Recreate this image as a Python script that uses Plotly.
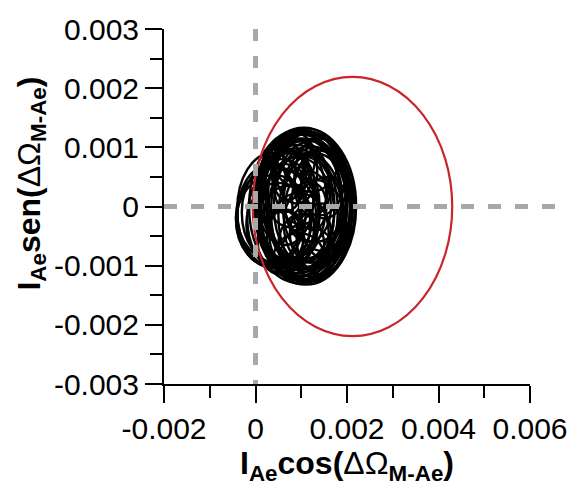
import plotly.graph_objects as go

# Axis ticks
x_tickvals = [-0.002, 0, 0.002, 0.004, 0.006]
x_ticktext = ["-0.002", "0", "0.002", "0.004", "0.006"]
y_tickvals = [-0.003, -0.002, -0.001, 0, 0.001, 0.002, 0.003]
y_ticktext = ["-0.003", "-0.002", "-0.001", "0", "0.001", "0.002", "0.003"]

# Red reference ellipse (center and semi-axes, data units)
ref_cx = 0.00212
ref_cy = 0.0
ref_rx = 0.00218
ref_ry = 0.00219

# Black trajectory loops (center x, center y, semi-axis x, semi-axis y)
loop_cx = [0.00110, 0.00105, 0.00112, 0.00100, 0.00108, 0.00095, 0.00115, 0.00090,
           0.00102, 0.00110, 0.00085, 0.00120, 0.00045, 0.00050, 0.00040, 0.00055,
           0.00060, 0.00100, 0.00095, 0.00130, 0.00130, 0.00075, 0.00070, 0.00115,
           0.00090, 0.00100, 0.00140, 0.00145, 0.00060, 0.00055, 0.00120, 0.00115,
           0.00080, 0.00122, 0.00035, 0.00098,
           0.00105, 0.00100, 0.00112, 0.00092, 0.00070, 0.00065, 0.00050, 0.00135,
           0.00145, 0.00130, 0.00085, 0.00095, 0.00125, 0.00120, 0.00125, 0.00065,
           0.00070, 0.00155, 0.00150, 0.00030]
loop_cy = [0.00000, 0.00005, -0.00003, 0.00002, -0.00005, 0.00008, 0.00004, -0.00008,
           0.00010, -0.00010, 0.00000, 0.00000, -0.00020, -0.00015, -0.00025, -0.00010,
           -0.00020, 0.00040, -0.00045, 0.00020, -0.00030, 0.00030, -0.00035, 0.00000,
           0.00060, -0.00065, 0.00050, -0.00055, 0.00050, -0.00060, 0.00075, -0.00080,
           0.00010, -0.00008, -0.00005, 0.00000,
           0.00020, -0.00020, 0.00012, -0.00012, 0.00000, 0.00015, -0.00030, 0.00000,
           0.00010, -0.00015, 0.00080, -0.00085, 0.00035, -0.00045, 0.00000, -0.00050,
           0.00060, -0.00020, 0.00040, -0.00015]
loop_rx = [0.00110, 0.00108, 0.00105, 0.00100, 0.00098, 0.00095, 0.00092, 0.00090,
           0.00085, 0.00082, 0.00088, 0.00080, 0.00088, 0.00090, 0.00082, 0.00085,
           0.00078, 0.00060, 0.00065, 0.00070, 0.00068, 0.00055, 0.00058, 0.00050,
           0.00045, 0.00050, 0.00055, 0.00055, 0.00050, 0.00050, 0.00060, 0.00060,
           0.00075, 0.00088, 0.00075, 0.00112,
           0.00095, 0.00092, 0.00085, 0.00080, 0.00070, 0.00062, 0.00070, 0.00075,
           0.00065, 0.00080, 0.00045, 0.00055, 0.00040, 0.00045, 0.00030, 0.00040,
           0.00035, 0.00055, 0.00050, 0.00070]
loop_ry = [0.00132, 0.00128, 0.00125, 0.00120, 0.00118, 0.00115, 0.00110, 0.00112,
           0.00105, 0.00100, 0.00098, 0.00102, 0.00085, 0.00080, 0.00078, 0.00090,
           0.00092, 0.00070, 0.00068, 0.00080, 0.00075, 0.00065, 0.00070, 0.00060,
           0.00055, 0.00052, 0.00065, 0.00060, 0.00060, 0.00055, 0.00050, 0.00045,
           0.00105, 0.00118, 0.00095, 0.00130,
           0.00108, 0.00105, 0.00115, 0.00095, 0.00090, 0.00080, 0.00070, 0.00095,
           0.00085, 0.00105, 0.00045, 0.00040, 0.00050, 0.00050, 0.00040, 0.00045,
           0.00050, 0.00070, 0.00060, 0.00085]

shapes = []
for cx, cy, rx, ry in zip(loop_cx, loop_cy, loop_rx, loop_ry):
    shapes.append(dict(type="circle", xref="x", yref="y",
                       x0=cx - rx, x1=cx + rx, y0=cy - ry, y1=cy + ry,
                       line=dict(color="black", width=2.4)))

shapes.append(dict(type="circle", xref="x", yref="y",
                   x0=ref_cx - ref_rx, x1=ref_cx + ref_rx,
                   y0=ref_cy - ref_ry, y1=ref_cy + ref_ry,
                   line=dict(color="#c8262a", width=2.2)))

gray = "#a8a8a8"
shapes.append(dict(type="line", xref="paper", yref="y", x0=0, x1=1.077, y0=0, y1=0,
                   line=dict(color=gray, width=5, dash="13px,14px")))
shapes.append(dict(type="line", xref="x", yref="paper", x0=0, x1=0, y0=1.0, y1=0,
                   line=dict(color=gray, width=5, dash="12px,15px")))

fig = go.Figure()
fig.add_trace(go.Scatter(x=[None], y=[None], mode="lines", showlegend=False,
                         hoverinfo="skip"))

font_name = "Liberation Sans, Arial, sans-serif"
axis_common = dict(showline=True, linecolor="black", linewidth=2,
                   ticks="outside", ticklen=17, tickwidth=2, tickcolor="black",
                   showgrid=False, zeroline=False, mirror=False,
                   tickfont=dict(family=font_name, size=30, color="black"))

fig.update_xaxes(range=[-0.002, 0.006], tickmode="array", tickvals=x_tickvals,
                 ticktext=x_ticktext,
                 minor=dict(tickmode="linear", tick0=-0.001, dtick=0.002, ticks="outside",
                            ticklen=12, tickwidth=2, tickcolor="black"),
                 title=dict(text="<b>I<sub>Ae</sub>cos(</b>ΔΩ<b><sub>M-Ae</sub>)</b>",
                            font=dict(family=font_name, size=32, color="black"),
                            standoff=4),
                 **axis_common)
fig.update_yaxes(range=[-0.003, 0.003], tickmode="array", tickvals=y_tickvals,
                 ticktext=y_ticktext,
                 minor=dict(tickmode="linear", tick0=-0.0025, dtick=0.001, ticks="outside",
                            ticklen=12, tickwidth=2, tickcolor="black"),
                 **axis_common)

fig.add_annotation(text="<b>I<sub>Ae</sub>sen(</b>ΔΩ<b><sub>M-Ae</sub>)</b>",
                   xref="paper", yref="paper", x=-0.363, y=0.565,
                   xanchor="center", yanchor="middle", textangle=-90,
                   showarrow=False,
                   font=dict(family=font_name, size=32, color="black"))

fig.update_layout(width=583, height=489, autosize=False,
                  margin=dict(l=164, r=53, t=19, b=105),
                  plot_bgcolor="white", paper_bgcolor="white",
                  shapes=shapes, showlegend=False)

fig.write_html("out.html")
